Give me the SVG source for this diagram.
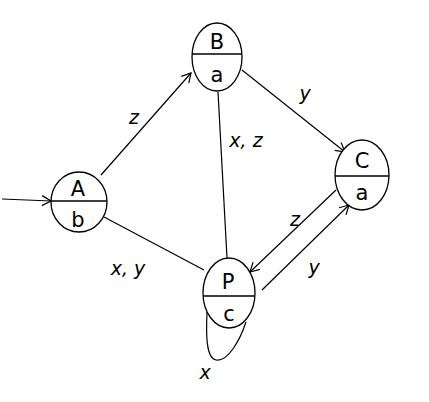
<svg xmlns="http://www.w3.org/2000/svg" width="429" height="402" viewBox="0 0 429 402">
<defs>
<marker id="arr" markerWidth="12" markerHeight="12" refX="10" refY="6" orient="auto" markerUnits="userSpaceOnUse">
<path d="M1,1 L10,6 L1,11" fill="none" stroke="#000" stroke-width="1.2"/>
</marker>
<style>
.n{fill:#fff;stroke:#000;stroke-width:1.3}
.d{stroke:#000;stroke-width:1.5}
.e{fill:none;stroke:#000;stroke-width:1.2}
.t{font-family:"DejaVu Sans","Liberation Sans",sans-serif;font-size:21px;text-anchor:middle;fill:#000}
.l{font-family:"DejaVu Sans","Liberation Sans",sans-serif;font-size:19px;text-anchor:middle;fill:#000;font-style:italic}
</style>
</defs>
<rect width="429" height="402" fill="#fff"/>
<g id="edges">
<line class="e" x1="2" y1="199" x2="51" y2="201" marker-end="url(#arr)"/>
<line class="e" x1="101" y1="175" x2="191" y2="73" marker-end="url(#arr)"/>
<line class="e" x1="104" y1="217" x2="204" y2="270"/>
<line class="e" x1="218" y1="92" x2="227" y2="258"/>
<line class="e" x1="242" y1="70" x2="345" y2="152" marker-end="url(#arr)"/>
<line class="e" x1="336" y1="190" x2="250" y2="272" marker-end="url(#arr)"/>
<line class="e" x1="262" y1="290" x2="349" y2="205" marker-end="url(#arr)"/>
<path class="e" d="M207,312 C206,335 206,358 216,360 C228,362 240,340 246,322"/>
<text class="l" x="134" y="124">z</text>
<text class="l" x="128" y="275">x, y</text>
<text class="l" x="246" y="147">x, z</text>
<text class="l" x="305" y="100">y</text>
<text class="l" x="295" y="226">z</text>
<text class="l" x="314" y="274">y</text>
<text class="l" x="205" y="379">x</text>
</g>
<g id="A">
<ellipse class="n" cx="79" cy="202" rx="28" ry="30"/>
<line class="d" x1="51" y1="201" x2="107" y2="201"/>
<text class="t" x="78" y="196">A</text>
<text class="t" x="78" y="227">b</text>
</g>
<g id="B">
<ellipse class="n" cx="217" cy="57" rx="25" ry="34"/>
<line class="d" x1="192" y1="54" x2="242" y2="54"/>
<text class="t" x="217" y="49">B</text>
<text class="t" x="217" y="82">a</text>
</g>
<g id="C">
<ellipse class="n" cx="362" cy="175" rx="27" ry="35"/>
<line class="d" x1="335" y1="176" x2="389" y2="176"/>
<text class="t" x="362" y="168">C</text>
<text class="t" x="362" y="200">a</text>
</g>
<g id="P">
<ellipse class="n" cx="229" cy="293" rx="26" ry="35"/>
<line class="d" x1="203" y1="296" x2="255" y2="296"/>
<text class="t" x="228" y="289">P</text>
<text class="t" x="229" y="321">c</text>
</g>
</svg>
